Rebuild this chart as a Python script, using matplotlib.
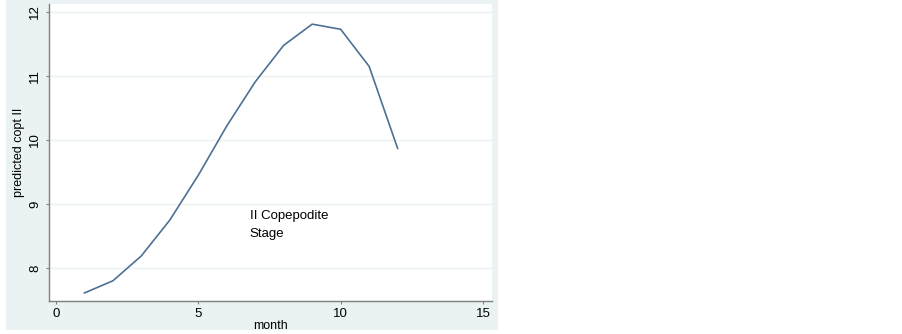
import matplotlib
matplotlib.use("Agg")
import matplotlib.pyplot as plt
import matplotlib.patches as mpatches

plt.rcParams["font.family"] = ["Liberation Sans", "DejaVu Sans"]

months = [1, 2, 3, 4, 5, 6, 7, 8, 9, 10, 11, 12]
predicted = [7.61, 7.80, 8.19, 8.75, 9.45, 10.22, 10.91, 11.48, 11.81, 11.73, 11.15, 9.87]

xticks = [0, 5, 10, 15]
yticks = [8, 9, 10, 11, 12]

panel = "#EAF2F3"
line_col = "#4d7093"
axis_col = "#7f7f7f"

fig = plt.figure(figsize=(9.03, 3.34), dpi=100)
fig.patch.set_facecolor("white")

# light outer panel (stata style), kept behind the axes
W, H = 903.0, 334.0
fig.patches.append(mpatches.Rectangle((6 / W, 4 / H), (498 - 6) / W, (334 - 4) / H,
                                      transform=fig.transFigure, facecolor=panel,
                                      edgecolor="none", zorder=-10))

ax = fig.add_axes([49 / W, (H - 301) / H, (492 - 49) / W, (301 - 4) / H])
ax.set_facecolor("white")

ax.plot(months, predicted, color=line_col, linewidth=1.2, zorder=3)

ax.set_xlim(-0.246, 15.316)
ax.set_ylim(7.484, 12.125)
ax.set_xticks(xticks)
ax.set_yticks(yticks)

ax.grid(True, axis="y", color=panel, linewidth=1.0, zorder=1)
ax.grid(False, axis="x")

for s in ["top", "right"]:
    ax.spines[s].set_visible(False)
for s in ["left", "bottom"]:
    ax.spines[s].set_color(axis_col)
    ax.spines[s].set_linewidth(1.0)

ax.tick_params(axis="both", direction="out", length=2.5, width=0.8, color=axis_col,
               labelsize=9.5, labelcolor="black")
ax.tick_params(axis="x", pad=2.5)
ax.tick_params(axis="y", pad=3)
for lbl in ax.get_yticklabels():
    lbl.set_rotation(90)
    lbl.set_va("center")

ax.set_xlabel("month", fontsize=9, labelpad=0)
ax.set_ylabel("predicted copt II", fontsize=9, labelpad=3)

ax.text(6.8, 8.90, "II Copepodite\nStage", fontsize=9.5, ha="left", va="top",
        linespacing=1.6)

fig.savefig("out.png", dpi=100, facecolor=fig.get_facecolor())
